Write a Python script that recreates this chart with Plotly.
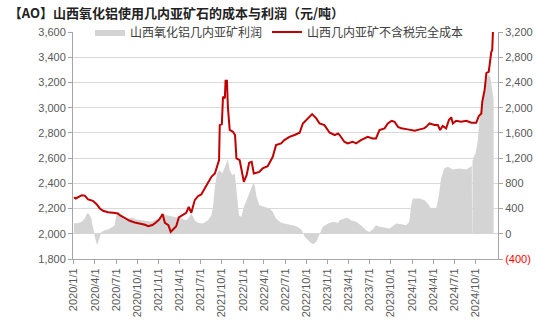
import plotly.graph_objects as go

# 山西几内亚矿不含税完全成本（元/吨，左轴）
cost_dates = [
    "2020-01-01", "2020-01-09", "2020-02-04", "2020-02-17", "2020-03-02", "2020-03-23",
    "2020-04-08", "2020-04-22", "2020-05-06", "2020-05-27", "2020-06-18", "2020-07-09",
    "2020-07-19", "2020-08-08", "2020-08-29", "2020-09-20", "2020-10-12", "2020-11-03",
    "2020-11-17", "2020-12-05", "2020-12-19", "2021-01-04", "2021-01-18", "2021-01-28",
    "2021-02-12", "2021-02-22", "2021-03-04", "2021-03-18", "2021-03-29", "2021-04-16",
    "2021-04-30", "2021-05-11", "2021-05-22", "2021-06-06", "2021-06-20", "2021-07-04",
    "2021-07-18", "2021-08-02", "2021-08-17", "2021-09-01", "2021-09-10", "2021-09-19",
    "2021-09-22", "2021-10-01", "2021-10-06", "2021-10-14", "2021-10-17", "2021-10-23",
    "2021-10-27", "2021-11-04", "2021-11-18", "2021-11-27", "2021-12-03", "2021-12-17",
    "2021-12-24", "2022-01-04", "2022-01-16", "2022-01-27", "2022-02-07", "2022-02-16",
    "2022-03-12", "2022-03-26", "2022-04-17", "2022-05-09", "2022-05-23", "2022-06-14",
    "2022-06-28", "2022-07-20", "2022-08-11", "2022-09-02", "2022-09-16", "2022-10-07",
    "2022-10-26", "2022-11-13", "2022-11-27", "2022-12-18", "2023-01-10", "2023-02-01",
    "2023-02-15", "2023-02-22", "2023-03-14", "2023-03-28", "2023-04-19", "2023-05-04",
    "2023-05-25", "2023-06-23", "2023-07-14", "2023-07-29", "2023-08-13", "2023-09-04",
    "2023-09-18", "2023-10-05", "2023-10-17", "2023-11-01", "2023-11-15", "2023-12-13",
    "2024-01-12", "2024-02-03", "2024-02-21", "2024-03-02", "2024-03-16", "2024-04-07",
    "2024-04-21", "2024-05-01", "2024-05-12", "2024-05-27", "2024-06-08", "2024-06-18",
    "2024-06-25", "2024-07-09", "2024-07-31", "2024-08-22", "2024-09-13", "2024-10-04",
    "2024-10-15", "2024-10-26", "2024-10-30", "2024-11-09", "2024-11-17", "2024-11-27",
    "2024-12-01", "2024-12-08", "2024-12-12", "2024-12-16",
]
cost_values = [
    2290, 2280, 2306, 2303, 2272, 2261,
    2235, 2201, 2182, 2171, 2166, 2161,
    2145, 2124, 2103, 2090, 2082, 2071,
    2060, 2069, 2087, 2114, 2156, 2087,
    2068, 2015, 2034, 2060, 2129, 2148,
    2166, 2214, 2166, 2267, 2298, 2312,
    2359, 2399, 2452, 2478, 2531, 2584,
    2862, 2870, 3087, 3074, 3214, 3214,
    3007, 2823, 2809, 2783, 2598, 2584,
    2518, 2412, 2465, 2563, 2571, 2478,
    2491, 2518, 2536, 2610, 2703, 2717,
    2743, 2769, 2783, 2801, 2875, 2915,
    2949, 2915, 2875, 2862, 2801, 2783,
    2796, 2783, 2730, 2717, 2730, 2717,
    2743, 2769, 2756, 2756, 2823, 2836,
    2875, 2896, 2888, 2848, 2836, 2828,
    2817, 2828, 2836, 2848, 2875, 2862,
    2862, 2823, 2855, 2836, 2902, 2923,
    2875, 2896, 2888, 2896, 2880, 2880,
    2933, 2954, 3046, 3139, 3276, 3284,
    3363, 3443, 3456, 3640,
]

# 山西氧化铝几内亚矿利润（元/吨，右轴）
profit_dates = [
    "2020-01-01", "2020-01-12", "2020-02-04", "2020-02-17", "2020-02-26", "2020-03-06",
    "2020-03-16", "2020-03-23", "2020-03-31", "2020-04-10", "2020-04-19", "2020-04-29",
    "2020-05-13", "2020-05-27", "2020-06-11", "2020-06-25", "2020-07-02", "2020-07-09",
    "2020-07-24", "2020-08-08", "2020-08-22", "2020-09-06", "2020-09-27", "2020-10-19",
    "2020-11-10", "2020-12-01", "2020-12-15", "2020-12-30", "2021-01-14", "2021-01-19",
    "2021-02-05", "2021-02-26", "2021-03-18", "2021-04-09", "2021-04-30", "2021-05-14",
    "2021-05-22", "2021-06-06", "2021-06-20", "2021-07-11", "2021-08-02", "2021-08-17",
    "2021-08-24", "2021-09-01", "2021-09-10", "2021-09-22", "2021-10-03", "2021-10-13",
    "2021-10-20", "2021-10-27", "2021-11-04", "2021-11-16", "2021-11-26", "2021-12-05",
    "2021-12-14", "2021-12-24", "2022-01-04", "2022-01-16", "2022-01-27", "2022-02-07",
    "2022-02-13", "2022-02-20", "2022-02-28", "2022-03-12", "2022-04-03", "2022-04-25",
    "2022-05-09", "2022-05-23", "2022-06-14", "2022-07-06", "2022-07-28", "2022-08-19",
    "2022-09-10", "2022-09-24", "2022-10-15", "2022-10-29", "2022-11-13", "2022-11-27",
    "2022-12-11", "2023-01-03", "2023-01-24", "2023-02-15", "2023-02-22", "2023-03-14",
    "2023-03-28", "2023-04-12", "2023-05-04", "2023-05-25", "2023-06-16", "2023-06-30",
    "2023-07-14", "2023-07-29", "2023-08-13", "2023-09-04", "2023-09-25", "2023-10-09",
    "2023-10-24", "2023-11-15", "2023-12-06", "2023-12-20", "2023-12-28", "2024-01-04",
    "2024-01-26", "2024-02-03", "2024-02-24", "2024-03-08", "2024-03-23", "2024-04-14",
    "2024-04-25", "2024-05-05", "2024-05-19", "2024-06-03", "2024-06-25", "2024-07-24",
    "2024-08-22", "2024-09-13", "2024-09-15", "2024-09-16", "2024-09-17", "2024-09-18",
    "2024-09-23", "2024-10-01", "2024-10-11", "2024-10-18", "2024-10-30", "2024-11-09",
    "2024-11-24", "2024-12-04", "2024-12-12", "2024-12-18",
]
profit_values = [
    173, 163, 189, 243, 322, 317,
    243, 84, -49, -181, -75, 30,
    57, 68, 100, 136, 295, 332,
    268, 216, 243, 259, 227, 216,
    205, 189, 216, 243, 295, 311,
    295, 279, 268, 243, 216, 268,
    322, 216, 173, 163, 216, 295,
    427, 744, 957, 1009, 957, 1062,
    1141, 1179, 1009, 930, 957, 640,
    295, 268, 427, 533, 640, 771,
    798, 772, 586, 454, 427, 401,
    348, 243, 173, 152, 136, 121,
    68, -49, -128, -165, -128, 5,
    110, 163, 189, 173, 216, 243,
    253, 216, 189, 136, 57, 30,
    68, 136, 110, 100, 84, 121,
    163, 152, 136, 189, 454, 560,
    560, 560, 533, 481, 401, 401,
    586, 878, 1036, 1062, 1020, 1036,
    1020, 1073, 1073, 0, 0, 1150,
    1220, 1274, 1485, 1830, 2173, 2332,
    2517, 2490, 2279, 2120,
]

# 季度刻度
quarter_ticks = [
    "2020-01-01", "2020-04-01", "2020-07-01", "2020-10-01",
    "2021-01-01", "2021-04-01", "2021-07-01", "2021-10-01",
    "2022-01-01", "2022-04-01", "2022-07-01", "2022-10-01",
    "2023-01-01", "2023-04-01", "2023-07-01", "2023-10-01",
    "2024-01-01", "2024-04-01", "2024-07-01", "2024-10-01",
]
quarter_labels = [
    "2020/1/1", "2020/4/1", "2020/7/1", "2020/10/1",
    "2021/1/1", "2021/4/1", "2021/7/1", "2021/10/1",
    "2022/1/1", "2022/4/1", "2022/7/1", "2022/10/1",
    "2023/1/1", "2023/4/1", "2023/7/1", "2023/10/1",
    "2024/1/1", "2024/4/1", "2024/7/1", "2024/10/1",
]
left_ticks = [1800, 2000, 2200, 2400, 2600, 2800, 3000, 3200, 3400, 3600]
right_ticks = [-400, 0, 400, 800, 1200, 1600, 2000, 2400, 2800, 3200]


def fmt_right(v):
    if v < 0:
        return f'<span style="color:#ff0000">({abs(v):,})</span>'
    return f"{v:,}"


AXIS_GRAY = "#a6a6a6"
TICK_FONT = dict(family="Liberation Sans, Arial, sans-serif", size=11, color="#595959")
CJK = "Noto Sans CJK SC, Liberation Sans, sans-serif"

fig = go.Figure()

# 利润面积放在主轴（右侧），成本折线放在叠加轴（左侧），使折线绘制在面积之上
fig.add_trace(go.Scatter(
    x=profit_dates, y=profit_values, name="山西氧化铝几内亚矿利润",
    mode="lines", fill="tozeroy", fillcolor="#d4d4d4",
    line=dict(width=0, color="#d4d4d4"),
    yaxis="y",
))
fig.add_trace(go.Scatter(
    x=cost_dates, y=cost_values, name="山西几内亚矿不含税完全成本",
    mode="lines", line=dict(color="#c00000", width=2),
    yaxis="y2",
))

fig.update_layout(
    width=546, height=332,
    margin=dict(l=73, r=48, t=32, b=73),
    paper_bgcolor="white", plot_bgcolor="white",
    font=dict(family=CJK, size=12, color="#404040"),
    title=dict(
        text="<b>【AO】山西氧化铝使用几内亚矿石的成本与利润（元/吨）</b>",
        x=0.016, xanchor="left", xref="container",
        y=0.958, yanchor="middle", yref="container",
        font=dict(family=CJK, size=13, color="#222222"),
    ),
    showlegend=True,
    legend=dict(
        orientation="h", x=0.04, xanchor="left", y=1.0, yanchor="middle",
        bgcolor="rgba(0,0,0,0)", font=dict(family=CJK, size=12, color="#404040"),
        itemwidth=30, traceorder="normal",
    ),
    xaxis=dict(
        type="date", range=["2019-12-28", "2025-01-06"],
        tickvals=quarter_ticks, ticktext=quarter_labels, tickangle=-90,
        tickfont=TICK_FONT, ticks="outside", ticklen=4, tickcolor=AXIS_GRAY,
        showline=True, linecolor=AXIS_GRAY, linewidth=1,
        showgrid=False, zeroline=False,
    ),
    yaxis=dict(
        range=[-400, 3200], tickvals=right_ticks,
        ticktext=[fmt_right(v) for v in right_ticks],
        side="right",
        tickfont=TICK_FONT, ticks="outside", ticklen=4, tickcolor=AXIS_GRAY,
        showline=True, linecolor=AXIS_GRAY, linewidth=1,
        showgrid=True, gridcolor="#d9d9d9", gridwidth=1, zeroline=False,
    ),
    yaxis2=dict(
        range=[1800, 3600], tickvals=left_ticks,
        ticktext=[f"{v:,}" for v in left_ticks],
        overlaying="y", side="left",
        tickfont=TICK_FONT, ticks="outside", ticklen=4, tickcolor=AXIS_GRAY,
        showline=True, linecolor=AXIS_GRAY, linewidth=1,
        showgrid=False, zeroline=False,
    ),
)

fig.write_html("out.html")
